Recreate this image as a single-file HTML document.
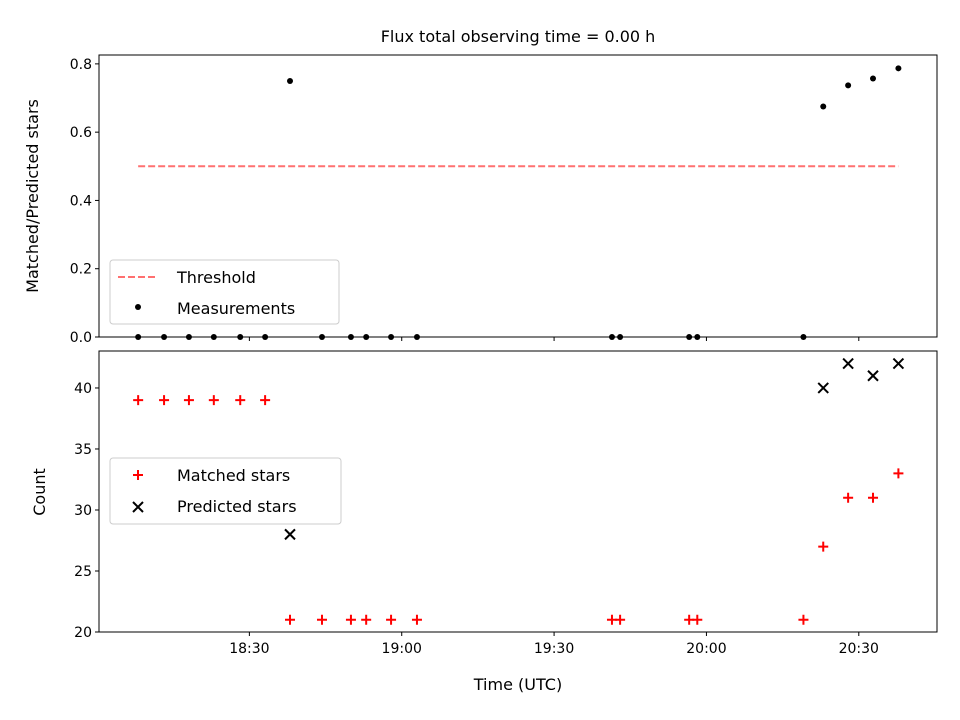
<!DOCTYPE html>
<html><head><meta charset="utf-8"><style>
body{margin:0;background:#fff;}
svg{display:block;font-family:"DejaVu Sans","Liberation Sans",sans-serif;}
</style></head><body>
<svg id="chart" width="960" height="720" viewBox="0 0 960 720" xmlns="http://www.w3.org/2000/svg">
<rect width="960" height="720" fill="#fff"/>
<text x="518" y="42" font-size="16" text-anchor="middle">Flux total observing time = 0.00 h</text>
<g id="topPanel"></g><g id="botPanel"></g>
</svg>
<script>
// minutes after 18:00 UTC
const times=[8.1,13.2,18.1,23.0,28.2,33.1,38.0,44.3,50.0,53.0,57.9,63.0,101.4,103.0,116.6,118.2,139.1,143.0,147.9,152.8,157.8];
const ratio=[0,0,0,0,0,0,0.75,0,0,0,0,0,0,0,0,0,0,0.675,0.737,0.757,0.787];
const matched=[39,39,39,39,39,39,21,21,21,21,21,21,21,21,21,21,21,27,31,31,33];
const predicted=[null,null,null,null,null,null,28,null,null,null,null,null,null,null,null,null,null,40,42,41,42];
const threshold=0.5;
const xTickMin=[30,60,90,120,150];
const xTickLabels=["18:30","19:00","19:30","20:00","20:30"];
const topTicks=[0,0.2,0.4,0.6,0.8];
const botTicks=[20,25,30,35,40];

const NS="http://www.w3.org/2000/svg";
const L=99,R=937;
const xs=m=>L+(m-0.39)*(R-L)/(165.4-0.39);
const yT=v=>337-(v-0)*(337-55)/0.826;
const yB=v=>632-(v-20)*(632-351)/23.03;
function el(t,a,p){const e=document.createElementNS(NS,t);for(const k in a)e.setAttribute(k,a[k]);p.appendChild(e);return e;}
const gTop=document.getElementById('topPanel'),gBot=document.getElementById('botPanel');

function axes(g,y0,y1,ticks,yf,fmt,name,labels){
  const f=el('rect',{x:L,y:y0,width:R-L,height:y1-y0,fill:'none',stroke:'#000','stroke-width':1},g);
  
  
  ticks.forEach(v=>{const y=yf(v);
    el('line',{x1:L-4,x2:L,y1:y,y2:y,stroke:'#000'},g);
    const t=el('text',{x:L-7,y:y+5,'font-size':14,'text-anchor':'end'},g);t.textContent=fmt(v);
    
    
  });
  xTickMin.forEach((m,i)=>{const x=xs(m);
    el('line',{x1:x,x2:x,y1:y1,y2:y1+4,stroke:'#000'},g);
    if(labels){const t=el('text',{x:x,y:y1+21,'font-size':14,'text-anchor':'middle'},g);t.textContent=xTickLabels[i];
      
      }
  });
}
axes(gTop,55,337,topTicks,yT,v=>v.toFixed(1),'top',false);
axes(gBot,351,632,botTicks,yB,v=>String(v),'bottom',true);

const th=el('line',{x1:xs(times[0]),x2:xs(times[times.length-1]),y1:yT(threshold),y2:yT(threshold),stroke:'#ff7070','stroke-width':2,'stroke-dasharray':'7,3'},gTop);


times.forEach((m,i)=>{
  const c=el('circle',{cx:xs(m),cy:yT(ratio[i]),r:3,fill:'#000'},gTop);
  
  
  const x=xs(m),y=yB(matched[i]);
  const p=el('path',{d:`M${x-5},${y}H${x+5}M${x},${y-5}V${y+5}`,stroke:'#f00','stroke-width':2},gBot);
  
  
  if(predicted[i]!==null){const yy=yB(predicted[i]);
    const q=el('path',{d:`M${x-5},${yy-5}L${x+5},${yy+5}M${x-5},${yy+5}L${x+5},${yy-5}`,stroke:'#000','stroke-width':2},gBot);
    
    }
});
let t=el('text',{x:38,y:196,'font-size':16,'text-anchor':'middle',transform:'rotate(-90 38 196)'},gTop);t.textContent='Matched/Predicted stars';

t=el('text',{x:45,y:492,'font-size':16,'text-anchor':'middle',transform:'rotate(-90 45 492)'},gBot);t.textContent='Count';

t=el('text',{x:518,y:690,'font-size':16,'text-anchor':'middle'},gBot);t.textContent='Time (UTC)';

function legend(g,x,y,w,h,name){const r=el('rect',{x:x,y:y,width:w,height:h,rx:3,fill:'#fff','fill-opacity':0.8,stroke:'#ccc'},g);
 }
legend(gTop,110,260,229,64,'top-legend');
el('line',{x1:118,x2:158,y1:277,y2:277,stroke:'#ff7070','stroke-width':2,'stroke-dasharray':'7,3'},gTop);
t=el('text',{x:177,y:283,'font-size':16},gTop);t.textContent='Threshold';
el('circle',{cx:138,cy:307,r:3,fill:'#000'},gTop);
t=el('text',{x:177,y:314,'font-size':16},gTop);t.textContent='Measurements';
legend(gBot,110,458,231,66,'bottom-legend');
el('path',{d:'M133,475H143M138,470V480',stroke:'#f00','stroke-width':2},gBot);
t=el('text',{x:177,y:481,'font-size':16},gBot);t.textContent='Matched stars';
el('path',{d:'M133,502L143,512M133,512L143,502',stroke:'#000','stroke-width':2},gBot);
t=el('text',{x:177,y:512,'font-size':16},gBot);t.textContent='Predicted stars';
</script>
</body></html>
